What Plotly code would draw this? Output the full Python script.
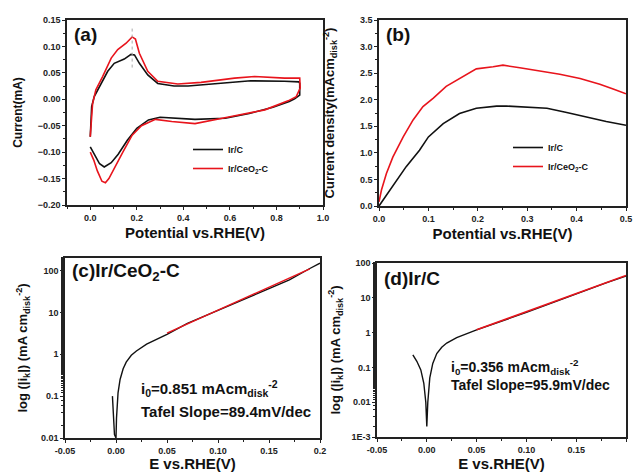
import plotly.graph_objects as go

# ---------------- data ----------------
# (a) CV curves: anodic (upper) then cathodic (lower) sweep
cv_irc_x = [0.0, 0.006, 0.017, 0.046, 0.075, 0.103, 0.146, 0.175, 0.19, 0.211, 0.247, 0.29, 0.36, 0.42, 0.55, 0.69, 0.835, 0.897, 0.9,
            0.9, 0.878, 0.855, 0.785, 0.683, 0.58, 0.45, 0.3, 0.25, 0.2, 0.16, 0.12, 0.09, 0.06, 0.04, 0.02, 0.0]
cv_irc_y = [-0.071, -0.014, 0.005, 0.030, 0.053, 0.068, 0.076, 0.085, 0.084, 0.068, 0.046, 0.030, 0.025, 0.025, 0.030, 0.035, 0.034, 0.033, 0.030,
            0.008, 0.001, -0.004, -0.015, -0.027, -0.036, -0.038, -0.034, -0.039, -0.055, -0.077, -0.104, -0.120, -0.128, -0.122, -0.106, -0.090]
cv_irceo_x = [0.0, 0.01, 0.024, 0.053, 0.09, 0.118, 0.154, 0.18, 0.194, 0.211, 0.247, 0.29, 0.376, 0.476, 0.62, 0.706, 0.835, 0.9,
              0.902, 0.885, 0.85, 0.75, 0.6, 0.45, 0.35, 0.28, 0.22, 0.18, 0.14, 0.10, 0.08, 0.065, 0.05, 0.03, 0.015, 0.0]
cv_irceo_y = [-0.071, -0.008, 0.018, 0.043, 0.078, 0.094, 0.106, 0.118, 0.114, 0.087, 0.053, 0.034, 0.029, 0.032, 0.040, 0.043, 0.040, 0.040,
              0.021, 0.005, -0.003, -0.020, -0.033, -0.046, -0.042, -0.038, -0.050, -0.068, -0.100, -0.135, -0.150, -0.158, -0.155, -0.135, -0.115, -0.100]
peak_marker_x = [0.18, 0.18]
peak_marker_y = [0.06, 0.135]

# (b) LSV curves
lsv_irc_x = [0.0, 0.015, 0.035, 0.055, 0.082, 0.10, 0.13, 0.163, 0.197, 0.238, 0.258, 0.30, 0.34, 0.38, 0.42, 0.46, 0.50]
lsv_irc_y = [0.0, 0.20, 0.48, 0.74, 1.05, 1.30, 1.55, 1.74, 1.84, 1.88, 1.88, 1.86, 1.84, 1.76, 1.67, 1.59, 1.52]
lsv_irceo_x = [0.0, 0.005, 0.015, 0.028, 0.049, 0.069, 0.089, 0.11, 0.136, 0.163, 0.197, 0.231, 0.251, 0.285, 0.326, 0.366, 0.407, 0.447, 0.474, 0.50]
lsv_irceo_y = [0.08, 0.30, 0.61, 0.92, 1.30, 1.62, 1.87, 2.03, 2.25, 2.40, 2.58, 2.62, 2.65, 2.60, 2.54, 2.48, 2.40, 2.29, 2.20, 2.11]

# (c) Tafel Ir/CeO2-C
taf_c_x = [-0.0035, -0.0015, 0.0, 0.0005, 0.002, 0.004, 0.007, 0.01, 0.015, 0.02, 0.03, 0.04, 0.05, 0.07, 0.10, 0.13, 0.15, 0.17, 0.19, 0.195, 0.20]
taf_c_y = [0.1, 0.012, 0.01, 0.03, 0.12, 0.25, 0.45, 0.65, 0.95, 1.2, 1.75, 2.3, 3.0, 5.5, 11.5, 23, 37, 60, 112, 130, 150]
fit_c_x = [0.05, 0.19]
fit_c_y = [3.2, 110]

# (d) Tafel Ir/C
taf_d_x = [-0.014, -0.01, -0.006, -0.003, -0.001, 0.0, 0.001, 0.003, 0.006, 0.01, 0.015, 0.02, 0.03, 0.04, 0.05, 0.10, 0.15, 0.18, 0.20]
taf_d_y = [0.23, 0.15, 0.085, 0.035, 0.01, 0.002, 0.01, 0.05, 0.13, 0.25, 0.38, 0.5, 0.72, 0.95, 1.2, 3.8, 13, 27, 42]
fit_d_x = [0.05, 0.20]
fit_d_y = [1.2, 44]

log_tick_vals_c = [0.01, 0.1, 1, 10, 100]
log_tick_text_c = ["0.01", "0.1", "1", "10", "100"]
log_tick_vals_d = [0.001, 0.01, 0.1, 1, 10, 100]
log_tick_text_d = ["1E-3", "0.01", "0.1", "1", "10", "100"]
tafel_x_vals = [-0.05, 0.0, 0.05, 0.10, 0.15, 0.20]
tafel_x_text_c = ["-0.05", "0.00", "0.05", "0.10", "0.15", "0.2"]
tafel_x_text_d = ["-0.05", "0.00", "0.05", "0.10", "0.15", "0.20"]

BLACK = "#111111"
RED = "#e8141c"
FONT = "Liberation Sans, Arial, sans-serif"

fig = go.Figure()

fig.add_trace(go.Scatter(x=cv_irc_x, y=cv_irc_y, mode="lines", name="Ir/C",
                         line=dict(color=BLACK, width=1.6), xaxis="x", yaxis="y", legend="legend"))
fig.add_trace(go.Scatter(x=cv_irceo_x, y=cv_irceo_y, mode="lines", name="Ir/CeO<sub>2</sub>-C",
                         line=dict(color=RED, width=1.6), xaxis="x", yaxis="y", legend="legend"))
fig.add_trace(go.Scatter(x=peak_marker_x, y=peak_marker_y, mode="lines", showlegend=False,
                         line=dict(color="#aaaaaa", width=1, dash="dot"), xaxis="x", yaxis="y"))

fig.add_trace(go.Scatter(x=lsv_irc_x, y=lsv_irc_y, mode="lines", name="Ir/C",
                         line=dict(color=BLACK, width=1.6), xaxis="x2", yaxis="y2", legend="legend2"))
fig.add_trace(go.Scatter(x=lsv_irceo_x, y=lsv_irceo_y, mode="lines", name="Ir/CeO<sub>2</sub>-C",
                         line=dict(color=RED, width=1.6), xaxis="x2", yaxis="y2", legend="legend2"))

fig.add_trace(go.Scatter(x=taf_c_x, y=taf_c_y, mode="lines", showlegend=False,
                         line=dict(color=BLACK, width=1.4), xaxis="x3", yaxis="y3"))
fig.add_trace(go.Scatter(x=fit_c_x, y=fit_c_y, mode="lines", showlegend=False,
                         line=dict(color=RED, width=1.4), xaxis="x3", yaxis="y3"))

fig.add_trace(go.Scatter(x=taf_d_x, y=taf_d_y, mode="lines", showlegend=False,
                         line=dict(color=BLACK, width=1.4), xaxis="x4", yaxis="y4"))
fig.add_trace(go.Scatter(x=fit_d_x, y=fit_d_y, mode="lines", showlegend=False,
                         line=dict(color=RED, width=1.6), xaxis="x4", yaxis="y4"))

tickfont = dict(family=FONT, size=9, color="#222", weight="bold")


def tfont(size):
    return dict(family=FONT, size=size, color="#111", weight="bold")


def ax(**kw):
    base = dict(showline=True, linecolor="#222", linewidth=1.5, mirror=True, ticks="outside",
                ticklen=3, tickwidth=1, tickcolor="#222", showgrid=False, zeroline=False,
                tickfont=tickfont, automargin=False)
    base.update(kw)
    return base


fig.update_layout(
    width=633, height=472, margin=dict(l=0, r=0, t=0, b=0),
    paper_bgcolor="white", plot_bgcolor="white",
    font=dict(family=FONT, color="#111"),
    xaxis=ax(domain=[67/633, 323/633], anchor="y", range=[-0.1, 1.0], dtick=0.2, tickformat=".1f",
             minor=dict(ticks="outside", ticklen=2, dtick=0.1, tickcolor="#222"),
             title=dict(text="Potential vs.RHE(V)", font=tfont(15), standoff=6)),
    yaxis=ax(domain=[1-205/472, 1-20/472], anchor="x", range=[-0.2, 0.15], dtick=0.05, tickformat=".2f",
             minor=dict(ticks="outside", ticklen=2, dtick=0.025, tickcolor="#222"),
             title=dict(text="Current(mA)", font=tfont(12), standoff=12)),
    xaxis2=ax(domain=[379/633, 626/633], anchor="y2", range=[0, 0.5], dtick=0.1, tickformat=".1f",
              minor=dict(ticks="outside", ticklen=2, dtick=0.05, tickcolor="#222"),
              title=dict(text="Potential vs.RHE(V)", font=tfont(15), standoff=6)),
    yaxis2=ax(domain=[1-206/472, 1-20/472], anchor="x2", range=[0, 3.5], dtick=0.5, tickformat=".1f",
              minor=dict(ticks="outside", ticklen=2, dtick=0.25, tickcolor="#222"),
              title=dict(text="Current density(mAcm<sub>disk</sub><sup>-2</sup>)", font=tfont(13), standoff=22)),
    xaxis3=ax(domain=[65/633, 320/633], anchor="y3", range=[-0.05, 0.2],
              tickvals=tafel_x_vals, ticktext=tafel_x_text_c,
              minor=dict(ticks="outside", ticklen=2, dtick=0.025, tickcolor="#222"),
              title=dict(text="E vs.RHE(V)", font=tfont(15), standoff=11)),
    yaxis3=ax(domain=[1-438/472, 1-258/472], anchor="x3", type="log", range=[-2, 2.3],
              tickvals=log_tick_vals_c, ticktext=log_tick_text_c,
              minor=dict(ticks="outside", ticklen=2, tickcolor="#222"),
              title=dict(text="log (|i<sub>k</sub>|) (mA cm<sub>disk</sub><sup>-2</sup>)", font=tfont(13), standoff=10)),
    xaxis4=ax(domain=[377/633, 626/633], anchor="y4", range=[-0.05, 0.2],
              tickvals=tafel_x_vals, ticktext=tafel_x_text_d,
              minor=dict(ticks="outside", ticklen=2, dtick=0.025, tickcolor="#222"),
              title=dict(text="E vs.RHE(V)", font=tfont(15), standoff=11)),
    yaxis4=ax(domain=[1-437/472, 1-263/472], anchor="x4", type="log", range=[-3, 2],
              tickvals=log_tick_vals_d, ticktext=log_tick_text_d,
              minor=dict(ticks="outside", ticklen=2, tickcolor="#222"),
              title=dict(text="log (|i<sub>k</sub>|) (mA cm<sub>disk</sub><sup>-2</sup>)", font=tfont(13), standoff=8)),
    legend=dict(x=188/633, y=1-135/472, xanchor="left", yanchor="top", bgcolor="rgba(0,0,0,0)",
                font=dict(family=FONT, size=9, weight="bold"), itemwidth=30, tracegroupgap=0),
    legend2=dict(x=508/633, y=1-133/472, xanchor="left", yanchor="top", bgcolor="rgba(0,0,0,0)",
                 font=dict(family=FONT, size=9, weight="bold"), itemwidth=30, tracegroupgap=0),
)

ann_font_big = tfont(19)
annotations = [
    dict(text="(a)", xref="x domain", yref="y domain", x=0.02, y=0.99, font=ann_font_big),
    dict(text="(b)", xref="x2 domain", yref="y2 domain", x=0.02, y=0.99, font=ann_font_big),
    dict(text="(c)Ir/CeO<sub>2</sub>-C", xref="x3 domain", yref="y3 domain", x=0.02, y=1.0, font=ann_font_big),
    dict(text="(d)Ir/C", xref="x4 domain", yref="y4 domain", x=0.02, y=0.98, font=ann_font_big),
    dict(text="i<sub>0</sub>=0.851 mAcm<sub>disk</sub><sup>-2</sup>", xref="x3 domain", yref="y3 domain",
         x=0.29, y=0.345, font=tfont(15)),
    dict(text="Tafel Slope=89.4mV/dec", xref="x3 domain", yref="y3 domain", x=0.29, y=0.205, font=tfont(15)),
    dict(text="i<sub>0</sub>=0.356 mAcm<sub>disk</sub><sup>-2</sup>", xref="x4 domain", yref="y4 domain",
         x=0.29, y=0.47, font=tfont(14)),
    dict(text="Tafel Slope=95.9mV/dec", xref="x4 domain", yref="y4 domain", x=0.29, y=0.355, font=tfont(14)),
]
for a in annotations:
    a.update(xanchor="left", yanchor="top", showarrow=False)
    fig.add_annotation(**a)

fig.write_html("out.html", config={"displayModeBar": False},
               post_script="document.body.style.margin='0';document.body.style.padding='0';")
